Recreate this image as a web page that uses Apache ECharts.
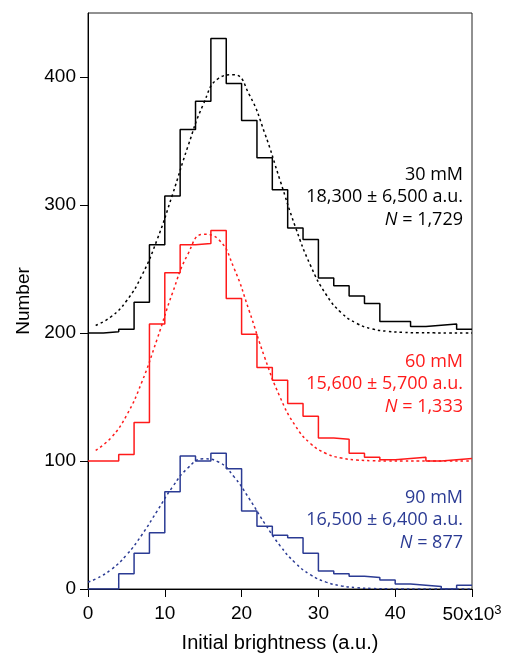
<!DOCTYPE html>
<html>
<head>
<meta charset="utf-8">
<script src="https://cdn.jsdelivr.net/npm/echarts@6/dist/echarts.min.js"></script>
<style>
  html, body { margin: 0; padding: 0; background: #fff; }
  #chart { width: 508px; height: 658px; }
</style>
</head>
<body>
<div id="chart"></div>
<script>
/* histogram bins, 2x10^3 a.u. wide, left edges */
var binStart = [0, 2, 4, 6, 8, 10, 12, 14, 16, 18, 20, 22, 24, 26, 28, 30, 32, 34, 36, 38, 40, 42, 44, 46, 48];
var binEnd = 50;

/* counts per bin */
var count30 = [0, 1, 3, 24, 69, 107, 159, 181, 230, 195, 166, 137, 112, 82, 73, 43, 37, 29, 23, 9, 9, 5, 6, 7, 3];
var count60 = [0, 0, 5, 30, 107, 147, 169, 170, 180, 127, 99, 73, 63, 45, 35, 18, 17, 6, 3, 1, 2, 3, 0, 1, 2];
var count90 = [0, 0, 12, 28, 44, 76, 104, 100, 106, 94, 61, 49, 42, 40, 28, 14, 12, 10, 9, 7, 4, 3, 2, 0, 3];

/* vertical offsets of the stacked histograms */
var offset30 = 200, offset60 = 100, offset90 = 0;

/* gaussian fits */
var fitX = [0, 1, 3, 5, 7, 9, 11, 13, 15, 17, 19, 21, 23, 25, 27, 29, 31, 33, 35, 37, 39, 41, 43, 45, 47, 49, 50];
var fit30 = [null, 5.9, 12.7, 25.0, 44.8, 72.9, 108.1, 145.6, 178.4, 199.0, 201.8, 186.2, 156.3, 119.4, 82.9, 52.4, 30.1, 15.7, 7.5, 3.2, 1.3, 0.5, 0.2, 0.1, 0, 0, 0];
var fit60 = [null, 8.3, 18.2, 35.4, 61.5, 95.2, 131.3, 161.5, 177.1, 173.1, 150.8, 117.1, 81.0, 50.0, 27.5, 13.5, 5.9, 2.3, 0.8, 0.2, 0, 0, 0, 0, 0, 0, 0];
var fit90 = [5.4, 7.8, 15.1, 26.5, 42.2, 60.9, 79.7, 94.5, 101.7, 99.2, 87.8, 70.5, 51.3, 33.9, 20.3, 11.0, 5.4, 2.4, 1.0, 0.4, 0.1, 0, 0, 0, 0, 0, 0];

var xTicks = [0, 10, 20, 30, 40, 50];
var yTicks = [0, 100, 200, 300, 400];

var black = '#000000', red = '#ff1a1a', blue = '#2b3b94';
var tickFont = 'Liberation Sans, Arial, sans-serif';
var noteFont = 'Open Sans, Noto Sans, sans-serif';

function histData(counts, offset) {
    var d = [];
    for (var i = 0; i < binStart.length; i++) {
        d.push([binStart[i], counts[i] + offset]);
    }
    d.push([binEnd, counts[counts.length - 1] + offset]);
    return d;
}
function fitData(fit, offset) {
    return fitX.map(function (x, i) {
        return fit[i] === null ? [x, null] : [x, fit[i] + offset];
    });
}
function histSeries(counts, offset, color) {
    return {
        type: 'line', step: 'end', showSymbol: false, silent: true,
        data: histData(counts, offset),
        lineStyle: { color: color, width: 1.5 }
    };
}
function fitSeries(fit, offset, color) {
    return {
        type: 'line', smooth: true, showSymbol: false, silent: true,
        data: fitData(fit, offset),
        lineStyle: { color: color, width: 1.5, type: [2.5, 3] }
    };
}
function note(lines, y, color) {
    var rows = [lines[0], lines[1], '{i|N} = ' + lines[2]];
    return rows.map(function (t, k) {
        return {
            type: 'text', right: 45, top: y + k * 22.3 - 12,
            style: {
                text: t, fill: color, font: '18px ' + noteFont, align: 'right',
                rich: { i: { fontStyle: 'italic', fontSize: 18, fontFamily: noteFont, fill: color } }
            }
        };
    });
}

var chart = echarts.init(document.getElementById('chart'));
chart.setOption({
    animation: false,
    grid: { left: 88, right: 36, top: 13, bottom: 69, show: true, borderColor: '#222', borderWidth: 1 },
    xAxis: {
        type: 'value', min: 0, max: 50, interval: 10,
        name: 'Initial brightness (a.u.)', nameLocation: 'middle', nameGap: 44,
        nameTextStyle: { color: '#000', fontSize: 20, fontFamily: tickFont },
        axisLine: { lineStyle: { color: '#000', width: 1 } },
        axisTick: { length: 8, lineStyle: { color: '#000' }, customValues: xTicks },
        splitLine: { show: false },
        axisLabel: {
            customValues: xTicks, margin: 15, color: '#000', fontSize: 19, fontFamily: tickFont,
            formatter: function (v) { return v === 50 ? '50x10{s|3}' : String(v); },
            rich: { s: { fontSize: 13, fontFamily: tickFont, color: '#000', verticalAlign: 'top', padding: [0, 0, 8, 0] } }
        }
    },
    yAxis: {
        type: 'value', min: 0, max: 450, interval: 100,
        name: 'Number', nameLocation: 'middle', nameGap: 48,
        nameTextStyle: { color: '#000', fontSize: 19, fontFamily: tickFont },
        axisLine: { show: true, lineStyle: { color: '#000', width: 1 } },
        axisTick: { show: true, length: 8, lineStyle: { color: '#000' }, customValues: yTicks },
        splitLine: { show: false },
        axisLabel: { customValues: yTicks, margin: 12, color: '#000', fontSize: 19, fontFamily: tickFont }
    },
    series: [
        histSeries(count30, offset30, black),
        fitSeries(fit30, offset30, black),
        histSeries(count60, offset60, red),
        fitSeries(fit60, offset60, red),
        histSeries(count90, offset90, blue),
        fitSeries(fit90, offset90, blue)
    ],
    graphic: [].concat(
        note(['30 mM', '18,300 \u00b1 6,500 a.u.', '1,729'], 178, black),
        note(['60 mM', '15,600 \u00b1 5,700 a.u.', '1,333'], 365, red),
        note(['90 mM', '16,500 \u00b1 6,400 a.u.', '877'], 501, blue)
    )
});
</script>
</body>
</html>
